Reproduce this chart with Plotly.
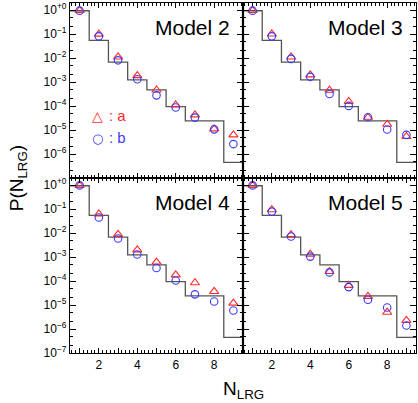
import plotly.graph_objects as go
from plotly.subplots import make_subplots

# ── Data ────────────────────────────────────────────────────────────────────
n_lrg = [1, 2, 3, 4, 5, 6, 7, 8, 9]

# reference histogram (same in every panel)
hist = [0.95, 0.055, 0.0068, 1.23e-3, 4.7e-4, 9.5e-5, 2.4e-5, 2.4e-5, 4.5e-7]

model2_a = [0.98, 0.10, 0.0112, 1.86e-3, 4.7e-4, 1.12e-4, 4.3e-5, 1.12e-5, 6.3e-6]
model2_b = [0.955, 0.081, 0.0081, 1.32e-3, 2.8e-4, 8.7e-5, 3.3e-5, 1.07e-5, 2.6e-6]

model3_a = [0.98, 0.102, 0.0112, 2.0e-3, 4.6e-4, 1.55e-4, 3.4e-5, 1.74e-5, 5.4e-6]
model3_b = [0.955, 0.081, 0.0093, 1.66e-3, 3.2e-4, 1.02e-4, 3.4e-5, 1.05e-5, 6.3e-6]

model4_a = [0.98, 0.063, 0.0089, 2.0e-3, 6.2e-4, 1.82e-4, 8.5e-5, 3.7e-5, 1.2e-5]
model4_b = [0.98, 0.045, 0.0060, 1.29e-3, 3.5e-4, 1.05e-4, 2.8e-5, 1.41e-5, 5.9e-6]

model5_a = [0.98, 0.095, 0.0087, 1.32e-3, 2.5e-4, 6.6e-5, 2.3e-5, 5.0e-6, 2.3e-6]
model5_b = [0.98, 0.079, 0.0072, 1.05e-3, 2.3e-4, 5.6e-5, 1.66e-5, 7.9e-6, 1.41e-6]

panels = [
    ("Model 2", model2_a, model2_b, 1, 1),
    ("Model 3", model3_a, model3_b, 1, 2),
    ("Model 4", model4_a, model4_b, 2, 1),
    ("Model 5", model5_a, model5_b, 2, 2),
]

y_exp = [0, -1, -2, -3, -4, -5, -6, -7]
x_labels = ["", "2", "", "4", "", "6", "", "8", ""]

RED = "#ff2a2a"
BLUE = "#3a3aff"
FONT = "Liberation Sans, Arial, sans-serif"

# bin edges for the step histogram
edges = [v - 0.5 for v in n_lrg] + [n_lrg[-1] + 0.5]
hist_steps = hist + [hist[-1]]

fig = make_subplots(
    rows=2, cols=2,
    shared_xaxes=True, shared_yaxes=True,
    horizontal_spacing=0, vertical_spacing=0,
)

for name, a_vals, b_vals, r, c in panels:
    fig.add_trace(
        go.Scatter(
            x=edges, y=hist_steps, mode="lines", line_shape="hv",
            line=dict(color="#555555", width=1.3), showlegend=False,
        ),
        row=r, col=c,
    )
    fig.add_trace(
        go.Scatter(
            x=n_lrg, y=a_vals, mode="markers", showlegend=False,
            marker=dict(symbol="triangle-up-open", size=8, color=RED,
                        line=dict(width=1.1)),
        ),
        row=r, col=c,
    )
    fig.add_trace(
        go.Scatter(
            x=n_lrg, y=b_vals, mode="markers", showlegend=False,
            marker=dict(symbol="circle-open", size=7.5, color=BLUE,
                        line=dict(width=1.1)),
        ),
        row=r, col=c,
    )
    idx = "" if (r, c) == (1, 1) else str((r - 1) * 2 + c)
    fig.add_annotation(
        text=name, xref=f"x{idx} domain", yref=f"y{idx} domain",
        x=0.935, y=0.86, xanchor="right", yanchor="middle", showarrow=False,
        font=dict(size=21, color="black", family=FONT),
    )

# legend glyphs in the first panel
fig.add_annotation(text="\u25b3", xref="x domain", yref="y domain", x=0.115, y=0.295,
                   showarrow=False, font=dict(size=14, color=RED, family="DejaVu Sans"))
fig.add_annotation(text=": a", xref="x domain", yref="y domain", x=0.215, y=0.295,
                   xanchor="left", showarrow=False, font=dict(size=15, color=RED, family=FONT))
fig.add_annotation(text="\u25cb", xref="x domain", yref="y domain", x=0.115, y=0.17,
                   showarrow=False, font=dict(size=13, color=BLUE, family="DejaVu Sans"))
fig.add_annotation(text=": b", xref="x domain", yref="y domain", x=0.215, y=0.17,
                   xanchor="left", showarrow=False, font=dict(size=15, color=BLUE, family=FONT))

# axis titles
fig.add_annotation(text="P(N<sub>LRG</sub>)", xref="paper", yref="paper", x=-0.19, y=0.5,
                   textangle=-90, showarrow=False, font=dict(size=19, color="black", family=FONT))
fig.add_annotation(text="N<sub>LRG</sub>", xref="paper", yref="paper", x=0.5, y=-0.105,
                   yanchor="middle", showarrow=False, font=dict(size=19, color="black", family=FONT))

# ── Axes ───────────────────────────────────────────────────────────────────
y_ticks = [10.0 ** e for e in y_exp]
y_text = ["10<sup>+0</sup>"] + [f"10<sup>\u2212{-e}</sup>" for e in y_exp[1:]]
y_minor = [m * 10.0 ** e for e in range(-7, 1) for m in (2, 5)]

fig.update_yaxes(
    type="log", range=[-7, 0.3],
    tickmode="array", tickvals=y_ticks, ticktext=y_text,
    ticks="inside", ticklen=6, tickcolor="black", tickwidth=1,
    minor=dict(tickmode="array", tickvals=y_minor, ticks="inside", ticklen=3,
               tickcolor="black", tickwidth=1, showgrid=False),
    showline=True, linecolor="black", linewidth=1.2, mirror="ticks",
    showgrid=False, zeroline=False,
    tickfont=dict(size=12, color="black", family=FONT),
)
fig.update_yaxes(ticktext=y_text[:-1] + [""], row=1, col=1)
fig.update_yaxes(showticklabels=False, col=2)

fig.update_xaxes(
    range=[0.5, 9.5],
    tickmode="array", tickvals=n_lrg, ticktext=x_labels,
    ticks="inside", ticklen=5, tickcolor="black", tickwidth=1,
    minor=dict(dtick=0.2, tick0=0, ticks="inside", ticklen=2.5,
               tickcolor="black", tickwidth=1, showgrid=False),
    showline=True, linecolor="black", linewidth=1.2, mirror="ticks",
    showgrid=False, zeroline=False,
    tickfont=dict(size=12, color="black", family=FONT),
)

# thicker divider between panels
fig.add_shape(type="line", xref="paper", yref="paper", x0=0.5, x1=0.5, y0=0, y1=1,
              line=dict(color="black", width=2.2))
fig.add_shape(type="line", xref="paper", yref="paper", x0=0, x1=1, y0=0.5, y1=0.5,
              line=dict(color="black", width=2.2))

fig.update_layout(
    width=418, height=403,
    margin=dict(l=70, r=2, t=1, b=50),
    plot_bgcolor="white", paper_bgcolor="white",
    font=dict(family=FONT, color="black"),
)

# drop the default page margin so the figure fills the window
fig.write_html(
    "out.html",
    config={"displayModeBar": False},
    post_script="document.body.style.margin='0';",
)
